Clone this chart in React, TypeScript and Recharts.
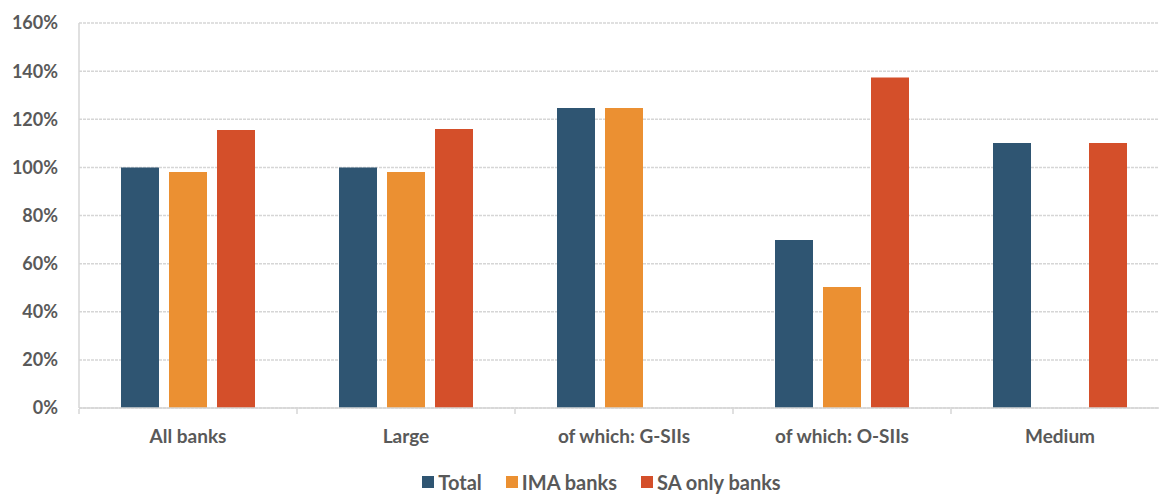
import { BarChart, Bar, XAxis, YAxis, CartesianGrid, Legend } from "recharts";

const categories = ["All banks", "Large", "of which: G-SIIs", "of which: O-SIIs", "Medium"];
const total = [100, 100, 124.7, 69.8, 110.1];
const imaBanks = [98.1, 98.1, 124.7, 50.3, null];
const saOnlyBanks = [115.5, 116, null, 137.4, 110.1];
const seriesNames = ["Total", "IMA banks", "SA only banks"];
const yTicks = [0, 20, 40, 60, 80, 100, 120, 140, 160];

const COLORS = {
  total: "#2f5572",
  ima: "#eb9032",
  sa: "#d44f2a",
};

const FONT = "Lato, 'Open Sans', sans-serif";
const TEXT = "#595959";
const GRID = "#d6d6d6";

const data = categories.map((name, i) => ({
  name,
  total: total[i],
  ima: imaBanks[i],
  sa: saOnlyBanks[i],
}));

interface TickProps {
  x?: number;
  y?: number;
  payload?: { value: string; offset?: number };
}

// category label plus an Excel-style tick mark at the left edge of each band
function CategoryTick({ x = 0, y = 0, payload }: TickProps) {
  const half = payload?.offset ?? 109;
  return (
    <g>
      <line x1={x - half} x2={x - half} y1={y + 1} y2={y + 6} stroke={GRID} strokeWidth={1.5} />
      <text
        x={x}
        y={y + 35}
        textAnchor="middle"
        fill={TEXT}
        fontFamily={FONT}
        fontWeight={700}
        fontSize={19}
      >
        {payload?.value}
      </text>
    </g>
  );
}

interface LegendItem {
  value: string;
  color?: string;
}

function LegendContent({ payload }: { payload?: LegendItem[] }) {
  // keep the series order, recharts sorts legend items by name
  const items = seriesNames
    .map((n) => payload?.find((p) => p.value === n))
    .filter((p): p is LegendItem => !!p);
  return (
    <div
      style={{
        height: 25,
        display: "flex",
        justifyContent: "center",
        alignItems: "center",
        gap: 24,
        paddingLeft: 34,
        fontFamily: FONT,
        fontWeight: 700,
        fontSize: 20,
        lineHeight: "24px",
        color: TEXT,
      }}
    >
      {items.map((item) => (
        <div key={item.value} style={{ display: "flex", alignItems: "center", gap: 4 }}>
          <div style={{ width: 12, height: 12, backgroundColor: item.color }} />
          <span>{item.value}</span>
        </div>
      ))}
    </div>
  );
}

export default function App() {
  return (
    <div
      style={{
        position: "absolute",
        left: 0,
        top: 0,
        width: 1159,
        height: 494,
        overflow: "hidden",
        background: "#fff",
      }}
    >
      <BarChart
        width={1180}
        height={494}
        data={data}
        margin={{ top: 23, right: 11, left: 0, bottom: 0 }}
        barSize={38}
        barGap={10}
      >
        <CartesianGrid
          vertical={false}
          stroke={GRID}
          strokeWidth={1.5}
          strokeDasharray="3 1"
        />
        <XAxis
          dataKey="name"
          height={61}
          tickSize={0}
          tickMargin={0}
          tickLine={false}
          axisLine={{ stroke: GRID, strokeWidth: 1.5 }}
          tick={<CategoryTick />}
          interval={0}
        />
        <YAxis
          width={79}
          domain={[0, 160]}
          ticks={yTicks}
          tickFormatter={(v: number) => `${v}%`}
          tickLine={false}
          tickSize={0}
          tickMargin={21}
          axisLine={{ stroke: GRID, strokeWidth: 1.5 }}
          tick={{ fill: TEXT, fontFamily: FONT, fontWeight: 700, fontSize: 18 }}
        />
        <Legend verticalAlign="bottom" content={<LegendContent />} />
        <Bar dataKey="total" name="Total" fill={COLORS.total} isAnimationActive={false} />
        <Bar dataKey="ima" name="IMA banks" fill={COLORS.ima} isAnimationActive={false} />
        <Bar dataKey="sa" name="SA only banks" fill={COLORS.sa} isAnimationActive={false} />
      </BarChart>
    </div>
  );
}
